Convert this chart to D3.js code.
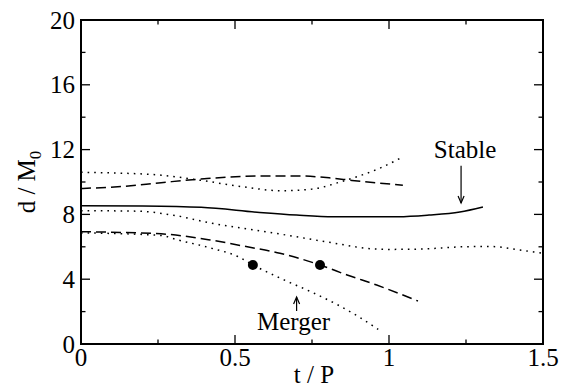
<!DOCTYPE html>
<html>
<head>
<meta charset="utf-8">
<script src="https://cdn.jsdelivr.net/npm/d3@7"></script>
</head>
<body style="margin:0">
<script>
// data (t / P, d / M0)
let solidStable = [[0, 8.54], [0.2, 8.52], [0.39, 8.44], [0.58, 8.12], [0.7, 7.96], [0.82, 7.86],
  [1.03, 7.86], [1.13, 7.96], [1.23, 8.15], [1.305, 8.46]];
let dottedTop = [[0, 10.6], [0.1, 10.56], [0.26, 10.42], [0.39, 10.1], [0.52, 9.72], [0.65, 9.46],
  [0.75, 9.56], [0.85, 10.05], [0.9, 10.35], [0.97, 10.85], [1.035, 11.45]];
let dashedTop = [[0, 9.6], [0.13, 9.72], [0.26, 9.96], [0.4, 10.2], [0.58, 10.37], [0.71, 10.37],
  [0.81, 10.25], [0.88, 10.1], [1.045, 9.8]];
let dottedMid = [[0, 8.23], [0.18, 8.2], [0.3, 7.95], [0.42, 7.47], [0.6, 6.93], [0.7, 6.62],
  [0.82, 6.23], [0.94, 5.88], [1.0, 5.84], [1.1, 5.86], [1.24, 6.0], [1.33, 6.02], [1.425, 5.8], [1.5, 5.6]];
let dashedLow = [[0, 6.93], [0.26, 6.8], [0.42, 6.42], [0.54, 6.0], [0.646, 5.6], [0.776, 4.88],
  [0.864, 4.26], [0.96, 3.64], [1.094, 2.65]];
let dottedLow = [[0, 6.86], [0.26, 6.7], [0.315, 6.42], [0.42, 5.93], [0.51, 5.39], [0.558, 4.88],
  [0.646, 4.07], [0.755, 3.15], [0.83, 2.45], [0.9, 1.7], [0.965, 0.9]];
let mergerPoints = [[0.558, 4.88], [0.776, 4.88]];

let xTicks = [0, 0.5, 1, 1.5];
let yTicks = [0, 4, 8, 12, 16, 20];
let xMinor = [0.25, 0.75, 1.25];
let yMinor = [2, 6, 10, 14, 18];

let labels = [
  { text: 'Stable', x: 1.247, y: 11.48, arrow: [[1.234, 11.0], [1.234, 8.7]] },
  { text: 'Merger', x: 0.69, y: 0.86, arrow: [[0.70, 2.04], [0.70, 2.9]] }
];

let margin = { top: 20, right: 23, bottom: 48, left: 81 };
let width = 566 - margin.left - margin.right;
let height = 392 - margin.top - margin.bottom;

let root = d3.select('body').append('svg')
    .attr('width', 566)
    .attr('height', 392);

let x = d3.scaleLinear().domain([0, 1.5]).range([margin.left, margin.left + width]);
let y = d3.scaleLinear().domain([0, 20]).range([margin.top + height, margin.top]);

// serif text placed by measured width instead of text-anchor (align: 0 start, 0.5 middle, 1 end)
function label(str, px, py, align) {
  let t = root.append('text')
    .style('font-family', '"Liberation Serif"')
    .style('font-size', '25px')
    .attr('y', py)
    .text(str);
  let w = t.node().getComputedTextLength();
  t.attr('x', px - w * align);
  return t;
}

// frame
root.append('rect')
  .attr('x', x(0)).attr('y', y(20))
  .attr('width', width).attr('height', height)
  .attr('fill', 'none').attr('stroke', '#000').attr('stroke-width', 2);

// inward ticks on all four sides
function xticks(vals, len) {
  vals.forEach(function(v) {
    root.append('line').attr('x1', x(v)).attr('x2', x(v)).attr('y1', y(0)).attr('y2', y(0) - len)
      .attr('stroke', '#000').attr('stroke-width', 1.3);
    root.append('line').attr('x1', x(v)).attr('x2', x(v)).attr('y1', y(20)).attr('y2', y(20) + len)
      .attr('stroke', '#000').attr('stroke-width', 1.3);
  });
}
function yticks(vals, len) {
  vals.forEach(function(v) {
    root.append('line').attr('y1', y(v)).attr('y2', y(v)).attr('x1', x(0)).attr('x2', x(0) + len)
      .attr('stroke', '#000').attr('stroke-width', 1.3);
    root.append('line').attr('y1', y(v)).attr('y2', y(v)).attr('x1', x(1.5)).attr('x2', x(1.5) - len)
      .attr('stroke', '#000').attr('stroke-width', 1.3);
  });
}
xticks(xTicks, 9); xticks(xMinor, 4.5);
yticks(yTicks, 9); yticks(yMinor, 4.5);

// tick labels
xTicks.forEach(function(d) { label(String(d), x(d), y(0) + 22, 0.5); });
yTicks.forEach(function(d) { label(String(d), x(0) - 6, y(d) + 8.5, 1); });

// axis titles
label('t / P', margin.left + width / 2 + 2, y(0) + 39, 0.5);

let yt = root.append('text')
  .style('font-family', '"Liberation Serif"')
  .style('font-size', '25px');
yt.append('tspan').text('d / M');
yt.append('tspan').attr('dy', 6).style('font-size', '17px').text('0');
let yw = yt.node().getComputedTextLength();
yt.attr('transform', 'translate(' + (margin.left - 46) + ',' + (margin.top + height / 2 + yw / 2) + ') rotate(-90)');

// curves
let line = d3.line()
  .x(function(d) { return x(d[0]); })
  .y(function(d) { return y(d[1]); })
  .curve(d3.curveMonotoneX);

function draw(data, dash) {
  root.append('path')
    .datum(data)
    .attr('fill', 'none')
    .attr('stroke', '#000')
    .attr('stroke-width', 1.5)
    .attr('d', line)
    .attr('stroke-dasharray', dash);
}
draw(solidStable, null);
draw(dashedTop, '10,5');
draw(dashedLow, '10,5');
draw(dottedTop, '1.6,5');
draw(dottedMid, '1.6,5');
draw(dottedLow, '1.6,5');

root.selectAll('.pt').data(mergerPoints).enter().append('circle')
  .attr('cx', function(d) { return x(d[0]); })
  .attr('cy', function(d) { return y(d[1]); })
  .attr('r', 5)
  .attr('fill', '#000');

// annotations with small open arrow heads
labels.forEach(function(l) {
  label(l.text, x(l.x), y(l.y), 0.5);
  let x1 = x(l.arrow[0][0]), y1 = y(l.arrow[0][1]);
  let x2 = x(l.arrow[1][0]), y2 = y(l.arrow[1][1]);
  let dir = y2 > y1 ? -1 : 1;
  root.append('line')
    .attr('x1', x1).attr('y1', y1).attr('x2', x2).attr('y2', y2)
    .attr('stroke', '#000').attr('stroke-width', 1.2);
  root.append('path')
    .attr('d', 'M' + (x2 - 3) + ',' + (y2 + dir * 7) + 'L' + x2 + ',' + y2 + 'L' + (x2 + 3) + ',' + (y2 + dir * 7))
    .attr('fill', 'none').attr('stroke', '#000').attr('stroke-width', 1.2);
});
</script>
</body>
</html>
